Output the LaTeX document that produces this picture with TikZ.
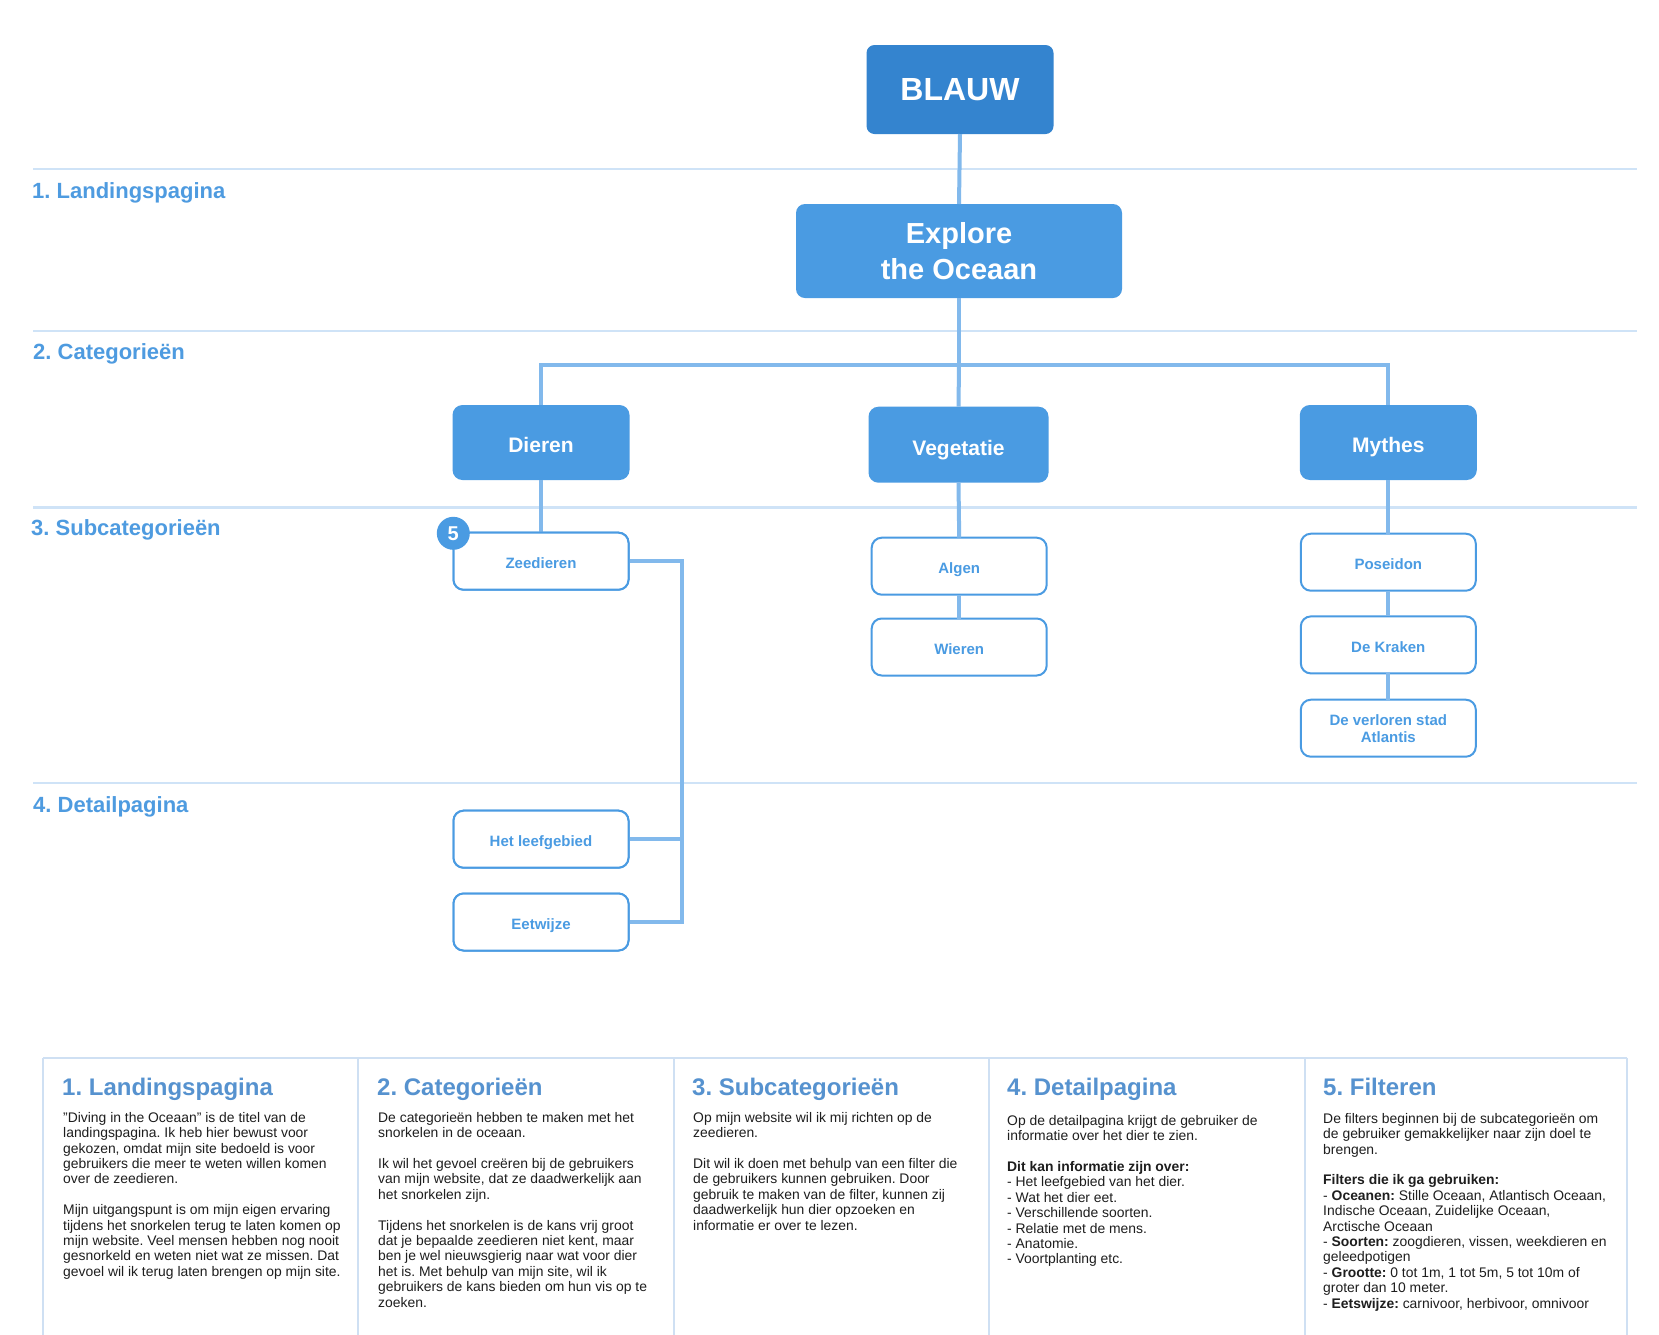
\documentclass[tikz,border=0pt]{standalone}
\usepackage{fontspec}
\setmainfont{Liberation Sans}
\frenchspacing
\definecolor{blauwdark}{HTML}{3484CF}
\definecolor{nodeblue}{HTML}{4A9BE2}
\definecolor{conn}{HTML}{82B9EC}
\definecolor{secl}{HTML}{CFE3F7}
\definecolor{seclab}{HTML}{4E9BE0}
\definecolor{ptit}{HTML}{5692CF}
\definecolor{pline}{HTML}{CFE0F3}
\definecolor{bodytext}{HTML}{1E1E1E}
\tikzset{
  topbox/.style={fill=blauwdark, rounded corners=8pt, text=white, inner sep=0pt, outer sep=0pt,
    font=\fontsize{32}{38}\selectfont\bfseries, minimum width=187pt, minimum height=89pt},
  mainbox/.style={fill=nodeblue, rounded corners=9pt, text=white, inner sep=0pt, outer sep=0pt, align=center,
    font=\fontsize{29}{36}\selectfont\bfseries, minimum width=326pt, minimum height=94pt},
  catbox/.style={fill=nodeblue, rounded corners=10pt, text=white, inner sep=0pt, outer sep=0pt,
    text height=21pt, text depth=0.4pt,
    font=\fontsize{21}{25}\selectfont\bfseries, minimum width=177pt, minimum height=75pt},
  subbox/.style={draw=nodeblue, line width=2pt, fill=white, rounded corners=10pt, text=nodeblue, inner sep=0pt, outer sep=0pt, align=center,
    font=\fontsize{15}{17}\selectfont\bfseries, minimum width=175pt, minimum height=57pt},
  subone/.style={subbox, text height=14.6pt, text depth=0.4pt},
  badge/.style={circle, fill=nodeblue, text=white, inner sep=0pt, minimum size=33pt,
    font=\fontsize{20}{24}\selectfont\bfseries},
  conline/.style={draw=conn, line width=4pt},
  secline/.style={draw=secl, line width=2.2pt},
  seclabel/.style={anchor=base west, inner sep=0pt, text=seclab,
    font=\fontsize{22}{26}\selectfont\bfseries},
  panelline/.style={draw=pline, line width=2.5pt},
  ptitle/.style={anchor=base west, inner sep=0pt, text=ptit,
    font=\fontsize{24}{28}\selectfont\bfseries},
  pbody/.style={anchor=north west, inner sep=0pt, align=left, text=bodytext, font=\fontsize{13.9}{15.4}\selectfont},
}
\begin{document}
\begin{tikzpicture}[x=1pt,y=-1pt]
\useasboundingbox (0,0) rectangle (1659,1334);
\fill[white] (0,0) rectangle (1659,1334);

% section lines and labels
\foreach \yy in {169,331,507.5,783} \draw[secline] (33,\yy) -- (1637,\yy);
\node[seclabel] (l1) at (32,198.3) {1. Landingspagina};
\node[seclabel] (l2) at (33,359.3) {2. Categorieën};
\node[seclabel] (l3) at (31,535) {3. Subcategorieën};
\node[seclabel] (l4) at (33,812) {4. Detailpagina};

% nodes
\node[topbox] (blauw) at (960,89.5) {BLAUW};
\node[mainbox] (explore) at (959,251) {Explore\\the Oceaan};
\node[catbox] (dieren) at (541,442.5) {Dieren};
\node[catbox, minimum width=180pt, minimum height=76pt] (vegetatie) at (958.5,444.7) {Vegetatie};
\node[catbox] (mythes) at (1388.3,442.5) {Mythes};

\node[subone] (zeedieren) at (541,561.2) {Zeedieren};
\node[subone] (algen) at (959.2,566.2) {Algen};
\node[subone] (wieren) at (959.2,647) {Wieren};
\node[subone] (poseidon) at (1388.3,562.2) {Poseidon};
\node[subone] (kraken) at (1388.3,644.9) {De Kraken};
\node[subbox] (atlantis) at (1388.3,728.2) {De verloren stad\\Atlantis};
\node[subone] (leefgebied) at (541,839.2) {Het leefgebied};
\node[subone] (eetwijze) at (541,922) {Eetwijze};

% connectors
\coordinate (bus) at (959,365);
\coordinate (spine) at (682,700);
\draw[conline] (blauw.south) -- (explore.north);
\draw[conline] (explore.south) -- (bus);
\draw[conline, line join=miter] (dieren.north) |- (bus) -| (mythes.north);
\draw[conline] (bus) -- (vegetatie.north);
\draw[conline] (dieren.south) -- (zeedieren.north);
\draw[conline] (vegetatie.south) -- (algen.north);
\draw[conline] (algen.south) -- (wieren.north);
\draw[conline] (mythes.south) -- (poseidon.north);
\draw[conline] (poseidon.south) -- (kraken.north);
\draw[conline] (kraken.south) -- (atlantis.north);
\draw[conline, line join=miter] (zeedieren.east) -| (spine |- eetwijze.east) -- (eetwijze.east);
\draw[conline] (leefgebied.east) -- (spine |- leefgebied.east);

% redraw boxes over connector ends
\node[subone] at (zeedieren) {Zeedieren};
\node[subone] at (leefgebied) {Het leefgebied};
\node[subone] at (eetwijze) {Eetwijze};
\node[badge] (b5) at (453.3,533.3) {5};

% bottom panels
\draw[panelline] (43,1058) -- (1627,1058);
\foreach \xx in {43,358,674,989,1305,1627} \draw[panelline] (\xx,1058) -- (\xx,1340);

\node[ptitle] (t1) at (62,1095) {1. Landingspagina};
\node[ptitle] (t2) at (377,1095) {2. Categorieën};
\node[ptitle] (t3) at (692,1095) {3. Subcategorieën};
\node[ptitle] (t4) at (1007,1095) {4. Detailpagina};
\node[ptitle] (t5) at (1323,1095) {5. Filteren};

\node[pbody] (p1) at (63,1112) {"Diving in the Oceaan” is de titel van de\\
landingspagina. Ik heb hier bewust voor\\
gekozen, omdat mijn site bedoeld is voor\\
gebruikers die meer te weten willen komen\\
over de zeedieren.\\[15.4pt]
Mijn uitgangspunt is om mijn eigen ervaring\\
tijdens het snorkelen terug te laten komen op\\
mijn website. Veel mensen hebben nog nooit\\
gesnorkeld en weten niet wat ze missen. Dat\\
gevoel wil ik terug laten brengen op mijn site.};

\node[pbody] (p2) at (378,1112) {De categorieën hebben te maken met het\\
snorkelen in de oceaan.\\[15.4pt]
Ik wil het gevoel creëren bij de gebruikers\\
van mijn website, dat ze daadwerkelijk aan\\
het snorkelen zijn.\\[15.4pt]
Tijdens het snorkelen is de kans vrij groot\\
dat je bepaalde zeedieren niet kent, maar\\
ben je wel nieuwsgierig naar wat voor dier\\
het is. Met behulp van mijn site, wil ik\\
gebruikers de kans bieden om hun vis op te\\
zoeken.};

\node[pbody] (p3) at (693,1112) {Op mijn website wil ik mij richten op de\\
zeedieren.\\[15.4pt]
Dit wil ik doen met behulp van een filter die\\
de gebruikers kunnen gebruiken. Door\\
gebruik te maken van de filter, kunnen zij\\
daadwerkelijk hun dier opzoeken en\\
informatie er over te lezen.};

\node[pbody] (p4) at (1007,1115) {Op de detailpagina krijgt de gebruiker de\\
informatie over het dier te zien.\\[15.4pt]
\textbf{Dit kan informatie zijn over:}\\
- Het leefgebied van het dier.\\
- Wat het dier eet.\\
- Verschillende soorten.\\
- Relatie met de mens.\\
- Anatomie.\\
- Voortplanting etc.};

\node[pbody] (p5) at (1323,1113) {De filters beginnen bij de subcategorieën om\\
de gebruiker gemakkelijker naar zijn doel te\\
brengen.\\[15.4pt]
\textbf{Filters die ik ga gebruiken:}\\
- \textbf{Oceanen:} Stille Oceaan, Atlantisch Oceaan,\\
Indische Oceaan, Zuidelijke Oceaan,\\
Arctische Oceaan\\
- \textbf{Soorten:} zoogdieren, vissen, weekdieren en\\
geleedpotigen\\
- \textbf{Grootte:} 0 tot 1m, 1 tot 5m, 5 tot 10m of\\
groter dan 10 meter.\\
- \textbf{Eetswijze:} carnivoor, herbivoor, omnivoor};
\end{tikzpicture}
\end{document}
